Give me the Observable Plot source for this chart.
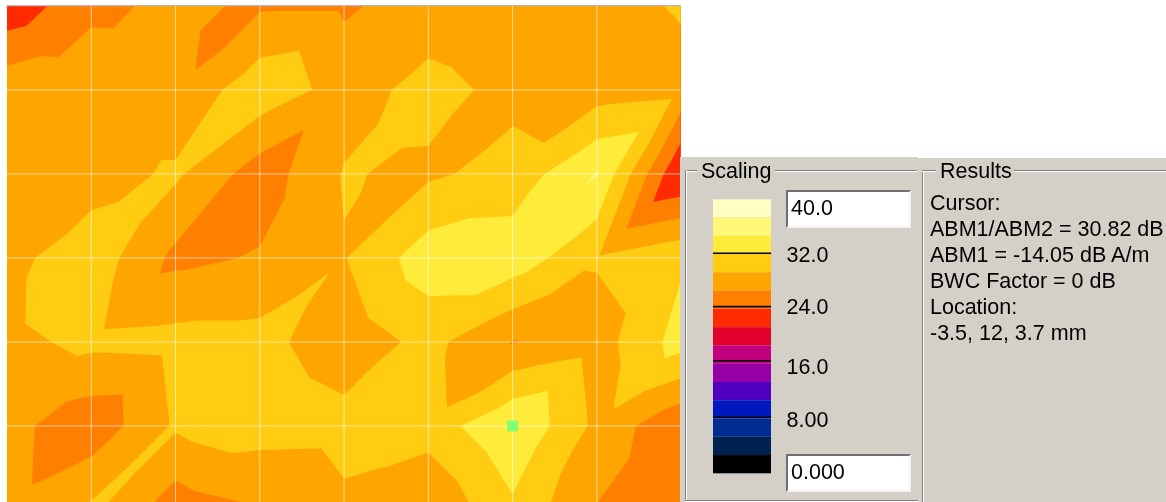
<!DOCTYPE html>
<html>
<head>
<meta charset="utf-8">
<script src="https://cdn.jsdelivr.net/npm/d3@7"></script>
<script src="https://cdn.jsdelivr.net/npm/@observablehq/plot@0.6"></script>
<style>
html,body{margin:0;padding:0;background:#fff;width:1166px;height:502px;overflow:hidden;font-family:"Liberation Sans",Arial,sans-serif;color:#000}
.abs{position:absolute}
.txt{position:absolute;font-size:21.5px;line-height:26px;white-space:nowrap;filter:blur(.35px)}
.etchH{position:absolute;height:1px;background:#808080;border-bottom:1px solid #fff}
.etchV{position:absolute;width:1px;background:#808080;border-right:1px solid #fff}
.box{position:absolute;background:#fff;box-sizing:border-box;border:2px solid;border-color:#6f6f6f #f4f2ee #f4f2ee #6f6f6f;font-size:21.5px;padding:0 0 0 3px;line-height:33px;filter:blur(.3px)}
</style>
</head>
<body>
<div id="root"></div>
<script>
// Field magnitude (dB) at the grid crossings, top row first
const cross0=[22.05,26.1,27.2,26.3,26.3,27.9,28,28.5,29.55];
const cross1=[28.55,28.3,27,31.2,28.2,30.2,28.6,28,28.6];
const cross2=[28.5,28.05,29.8,25.2,29.5,28.9,30.3,34.8,21.2];
const cross3=[28.5,31,26,26.9,29.2,33.5,33.7,29.6,31.6];
const cross4=[28.6,30,30.3,30.3,27.5,30.2,26.55,28.1,33.1];
const cross5=[27.6,24.8,29.7,30.5,30.4,30.4,34.6,28.7,24.3];
const cross6=[27.5,29.9,25,26.4,28.7,27,31.4,26.5,24.6];
// Field magnitude (dB) at the cell centres
const centre0=[26.2,27.16,26.3,29.2,28,28.6,28.1,28.5];
const centre1=[28.4,28.4,30.5,26.6,29.6,28.7,29,32];
const centre2=[28.1,30,25.6,27.7,29.1,31.9,34.4,25.4];
const centre3=[30.3,27.8,28.4,29.6,30.7,31.8,28.7,29.9];
const centre4=[28,27.3,30.2,29.7,30.4,28,31.5,30.3];
const centre5=[26.1,29.7,28.7,28.4,29.3,30.4,29.8,26.05];

// Colour key, top (40 dB) to bottom (0 dB)
const bandColors=["#FFFFC4","#FFF777","#FFEB3A","#FFCC11","#FFA500","#FF7F00","#FF2A00","#E2002D","#C0007F","#9400A5","#5000BE","#0018C0","#002E90","#002250","#000000"];
const keyMax=40, keyMin=0;
const keyRulesDrawn=[32.2,24.4,16.5,8.26];
const keyLabels=["32.0","24.0","16.0","8.00"];
const gridCols=[1,2,3,4,5,6,7];
const gridRows=[1,2,3,4,5];
const cursor=[{col:6,row:5}];
const resultLines=["Cursor:","ABM1/ABM2 = 30.82 dB","ABM1 = -14.05 dB A/m","BWC Factor = 0 dB","Location:","-3.5, 12, 3.7 mm"];

const root=document.getElementById("root");
const add=(cls,css,text)=>{const d=document.createElement("div");d.className=cls;d.style.cssText=css;if(text!==undefined)d.textContent=text;root.appendChild(d);return d;};

// The surface is flat on each of the four triangles of a grid cell
const crosses=[cross0,cross1,cross2,cross3,cross4,cross5,cross6];
const centres=[centre0,centre1,centre2,centre3,centre4,centre5];
function field(x,y){
  const c=Math.max(0,Math.min(7,Math.floor(x))), r=Math.max(0,Math.min(5,Math.floor(y)));
  const u=x-c, v=y-r, m=centres[r][c];
  const a=crosses[r][c], b=crosses[r][c+1], d=crosses[r+1][c], e=crosses[r+1][c+1];
  const dt=v, db=1-v, dl=u, dr=1-u, min=Math.min(dt,db,dl,dr);
  if(min===dt) return m*2*dt+a*(1-u-dt)+b*(u-dt);
  if(min===db) return m*2*db+d*(1-u-db)+e*(u-db);
  if(min===dl) return m*2*dl+a*(1-v-dl)+d*(v-dl);
  return m*2*dr+b*(1-v-dr)+e*(v-dr);
}

// Contour map
const bandStep=(keyMax-keyMin)/bandColors.length;
const ascending=[...bandColors].reverse();
const levels=d3.range(7,15).map(i=>keyMin+bandStep*i);
const map=Plot.plot({
  width:681,height:502,marginLeft:6.5,marginTop:5.3,marginRight:0.4,marginBottom:0,
  x:{domain:[0,8],range:[6.5,680.6],axis:null},
  y:{domain:[0,5.91],range:[5.3,502],axis:null},
  color:{type:"threshold",domain:levels,range:["#000"].concat(ascending.slice(7))},
  marks:[
    Plot.contour({fill:field,x1:0,x2:8,y1:0,y2:5.91,pixelSize:1,thresholds:levels,clip:"frame"}),
    Plot.ruleX(gridCols,{x:d=>d,stroke:"#fff",strokeOpacity:0.6}),
    Plot.ruleY(gridRows,{y:d=>d,stroke:"#fff",strokeOpacity:0.6}),
    Plot.ruleY([0],{stroke:"#b4b4bc"}),
    Plot.dot(cursor,{x:"col",y:"row",symbol:"square",r:6.2,fill:"#80FF70",stroke:null})
  ]
});
map.style.cssText="position:absolute;left:0;top:0;background:transparent";
root.appendChild(map);

// Dialog panels
add("abs","left:680px;top:157px;width:238px;height:345px;background:#D4D0C8");
add("abs","left:918px;top:158px;width:248px;height:344px;background:#D4D0C8");
add("etchH","left:685px;top:170px;width:232px");
add("etchV","left:685px;top:170px;height:332px");
add("etchV","left:922px;top:170px;height:332px");
add("etchH","left:922px;top:170px;width:244px");
add("etchH","left:685px;top:500px;width:233px");
add("abs","left:697px;top:160px;width:78px;height:24px;background:#D4D0C8");
add("abs","left:936px;top:160px;width:78px;height:24px;background:#D4D0C8");
add("txt","left:701px;top:158px","Scaling");
add("txt","left:940px;top:158px","Results");
resultLines.forEach((t,i)=>add("txt",`left:930px;top:${190+i*26}px`,t));
add("box","left:786px;top:190px;width:125px;height:38px",keyMax.toFixed(1));
add("box","left:786px;top:454px;width:125px;height:38px",keyMin.toFixed(3));

// Colour key
const keyBands=bandColors.map((c,i)=>({c,left:0,right:1,top:keyMax-bandStep*i,bottom:keyMax-bandStep*(i+1)}));
const keyDy=[2,0.5,6.5,2.5];
const key=Plot.plot({
  width:200,height:290,margin:0,
  x:{domain:[0,1],range:[13,71],axis:null},
  y:{domain:[40,0],range:[9.3,283.3],axis:null},
  style:{fontFamily:"Liberation Sans",fontSize:"21.5px",background:"transparent",overflow:"visible"},
  marks:[
    Plot.rect(keyBands,{x1:"left",x2:"right",y1:"top",y2:"bottom",fill:d=>d.c}),
    Plot.ruleY(keyRulesDrawn,{x1:0,x2:1,y:d=>d,stroke:"#000",strokeWidth:1.6}),
    ...keyLabels.map((t,i)=>Plot.text([t],{x:()=>1,y:()=>keyRulesDrawn[i],text:d=>d,textAnchor:"start",dx:15,dy:keyDy[i],fill:"#000",fontSize:21.5}))
  ]
});
key.style.cssText+=";position:absolute;left:700px;top:190px;background:transparent;filter:blur(.3px)";
root.appendChild(key);
</script>
</body>
</html>
